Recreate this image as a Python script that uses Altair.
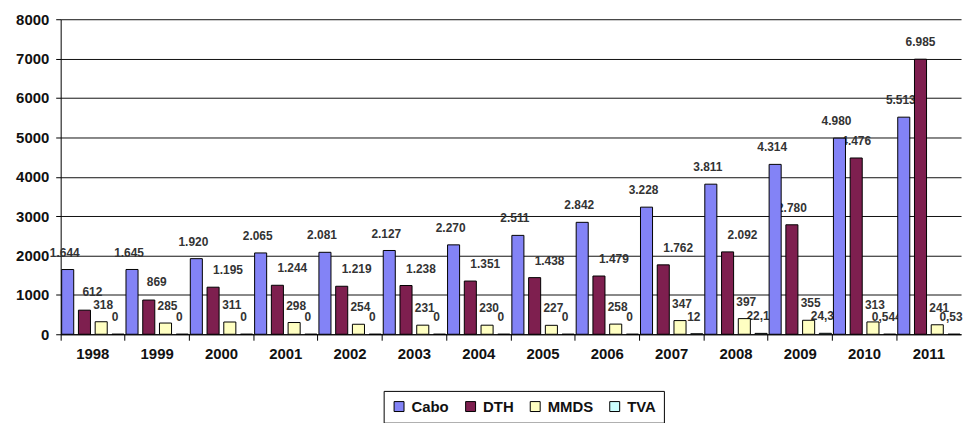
import altair as alt
import pandas as pd

years = [str(y) for y in range(1998, 2012)]
series = ["Cabo", "DTH", "MMDS", "TVA"]
colors = ["#8383F6", "#7E1F4F", "#FFFFC2", "#CCFFFF"]

cabo = [1644, 1645, 1920, 2065, 2081, 2127, 2270, 2511, 2842, 3228, 3811, 4314, 4980, 5513]
dth = [612, 869, 1195, 1244, 1219, 1238, 1351, 1438, 1479, 1762, 2092, 2780, 4476, 6985]
mmds = [318, 285, 311, 298, 254, 231, 230, 227, 258, 347, 397, 355, 313, 241]
tva = [0, 0, 0, 0, 0, 0, 0, 0, 0, 12, 22.1, 24.3, 0.544, 0.53]


def fmt(v):
    if float(v).is_integer():
        return f"{int(v):,}".replace(",", ".")
    return str(v).replace(".", ",")


rows = []
for name, vals in zip(series, [cabo, dth, mmds, tva]):
    for yr, v in zip(years, vals):
        rows.append({"year": yr, "series": name, "value": v, "label": fmt(v)})
df = pd.DataFrame(rows)

x = alt.X(
    "year:N",
    sort=years,
    scale=alt.Scale(paddingInner=0, paddingOuter=0),
    axis=alt.Axis(
        title=None, labelAngle=0, labelFontSize=15, labelFontWeight="bold",
        labelColor="#111", labelPadding=6, tickSize=6, tickColor="#000",
        domainColor="#000", bandPosition=0, labelFont="Liberation Sans",
    ),
)
xo = alt.XOffset(
    "series:N", sort=series,
    scale=alt.Scale(domain=series, paddingInner=0.28, paddingOuter=0.06),
)
y = alt.Y(
    "value:Q",
    scale=alt.Scale(domain=[0, 8000], nice=False),
    axis=alt.Axis(
        title=None, values=list(range(0, 8001, 1000)), format="d",
        labelFontSize=15, labelFontWeight="bold", labelColor="#111",
        labelPadding=7, tickSize=5, tickColor="#000", domainColor="#000",
        gridColor="#111", gridWidth=1, labelFont="Liberation Sans",
    ),
)
color = alt.Color(
    "series:N", sort=series,
    scale=alt.Scale(domain=series, range=colors),
    legend=alt.Legend(
        title=None, orient="none", legendX=325, legendY=374, direction="horizontal",
        symbolType="square", symbolSize=100, symbolStrokeColor="#000",
        symbolStrokeWidth=1, labelFontSize=15, labelFontWeight="bold",
        labelFont="Liberation Sans", labelColor="#111", strokeColor="#000",
        padding=8, columnPadding=14, symbolOpacity=1, labelOffset=5,
    ),
)

base = alt.Chart(df).encode(x=x, xOffset=xo, y=y)


def labels(filt, dx, dy=-10):
    return base.mark_text(
        baseline="bottom", dy=dy, dx=dx, fontSize=12, fontWeight="bold",
        font="Liberation Sans", color="#333",
    ).encode(text="label:N").transform_filter(filt)


text_layers = [
    labels("datum.series == 'Cabo'", -3),
    labels("datum.series == 'DTH' && datum.value < 1000", 8, -11),
    labels("datum.series == 'DTH' && datum.value >= 1000 && datum.value < 2500", 15),
    labels("datum.series == 'DTH' && datum.value >= 2500", 0),
    labels("datum.series == 'MMDS'", 2),
    labels("datum.series == 'TVA'", -3),
]

bars = base.mark_bar(stroke="#000", strokeWidth=1, opacity=1).encode(color=color)

chart = alt.layer(*text_layers, bars).properties(
    width=906, height=317,
    autosize=alt.AutoSizeParams(type="none"),
    padding={"left": 53, "top": 10, "right": 7, "bottom": 88},
).configure_view(stroke=None).configure_axis(grid=False).configure_axisY(grid=True)

chart.save("out.html", embed_options={"renderer": "svg", "actions": False})
